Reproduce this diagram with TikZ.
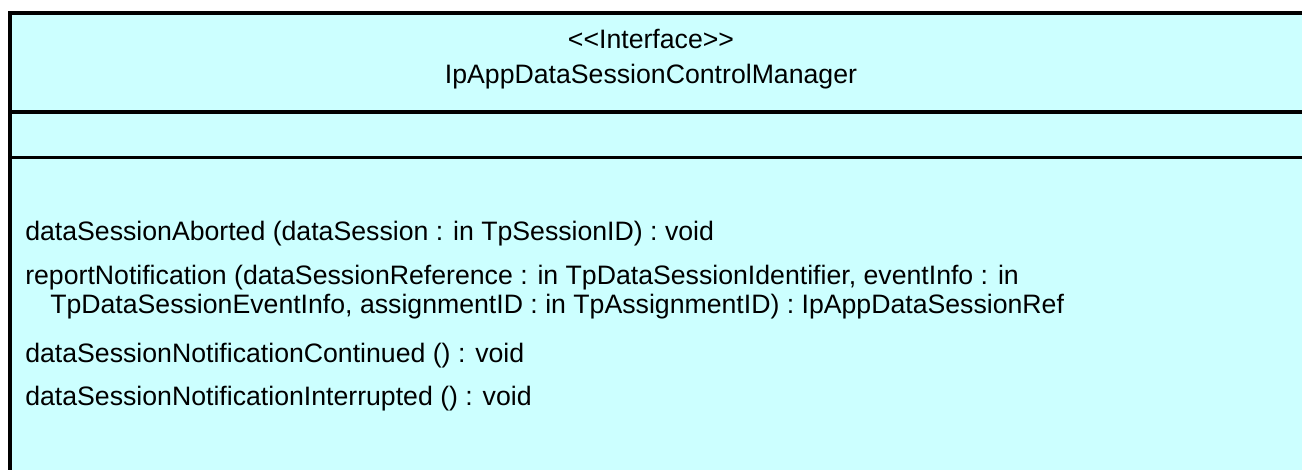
\documentclass[tikz,border=0pt]{standalone}
\usepackage{fontspec}
\setmainfont{Liberation Sans}
\definecolor{classcyan}{HTML}{CCFFFF}

\begin{document}
\begin{tikzpicture}[x=0.75pt,y=-0.75pt]
	\tikzstyle{classfill} = [fill=classcyan]
	\tikzstyle{frame} = [line width=3pt]
	\tikzstyle{divider} = [line width=2.6pt]
	\tikzstyle{txt} = [inner sep=0pt,font=\fontsize{20}{21.75}\selectfont]
	\tikzstyle{op} = [txt,anchor=base west,align=left]

	\useasboundingbox (0,0) rectangle (1302,469);
	% class box, cut off at the right and at the bottom
	\fill[classfill] (10,12.5) rectangle (1320,490);
	\draw[frame] (10,490) -- (10,12.5) -- (1320,12.5);
	\draw[frame] (10,112) -- (1320,112);
	\draw[divider] (10,157.5) -- (1320,157.5);

	\node[txt,anchor=base] (stereo) at (651,48) {<{}<Interface>{}>};
	\node[txt,anchor=base] (name) at (651,83) {IpAppDataSessionControlManager};

	\node[op] (aborted) at (25,240) {dataSessionAborted (dataSession : in TpSessionID) : void};
	\node[op] (report) at (25,313) {reportNotification (dataSessionReference : in TpDataSessionIdentifier, eventInfo : in\\
		\hspace*{18.75pt}TpDataSessionEventInfo, assignmentID : in TpAssignmentID) : IpAppDataSessionRef};
	\node[op] (continued) at (25,362) {dataSessionNotificationContinued () : void};
	\node[op] (interrupted) at (25,405) {dataSessionNotificationInterrupted () : void};
\end{tikzpicture}
\end{document}
